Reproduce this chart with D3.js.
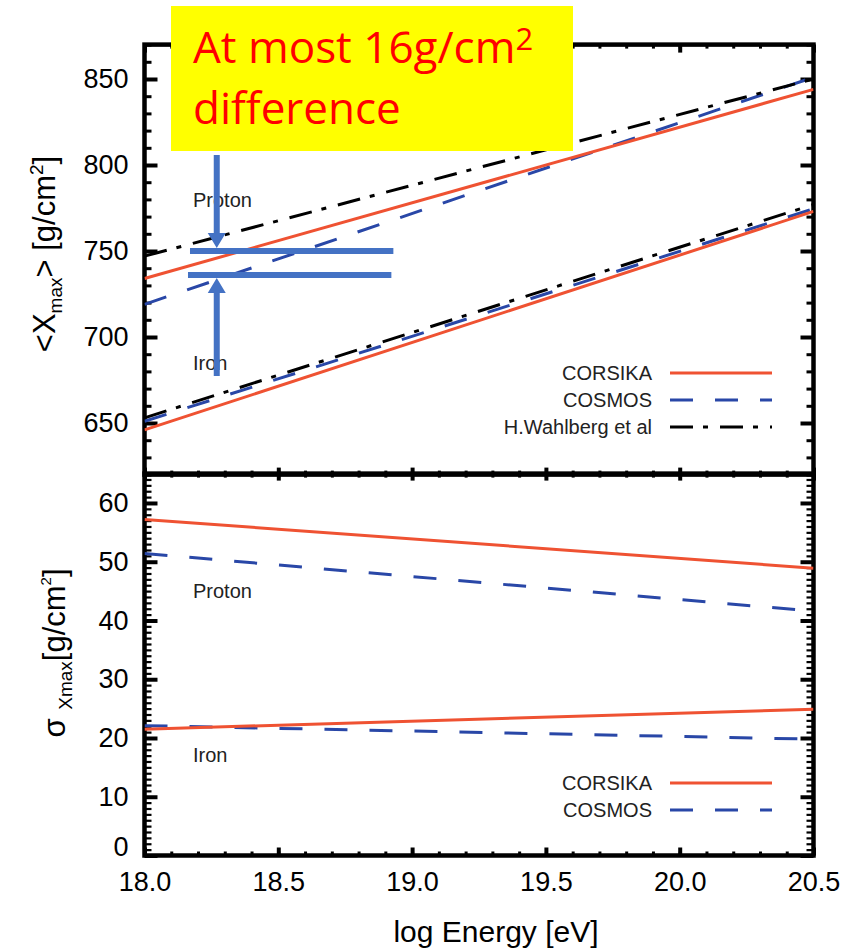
<!DOCTYPE html>
<html>
<head>
<meta charset="utf-8">
<script src="https://d3js.org/d3.v7.min.js"></script>
<style>
  body { margin: 0; background: #fff; }
  text { font-family: "Liberation Sans", Arial, sans-serif; }
</style>
</head>
<body>
<div id="chart"></div>
<script>
// chart data
var energyTicks = [18.0, 18.5, 19.0, 19.5, 20.0, 20.5];
var xmaxTicks = [650, 700, 750, 800, 850];
var sigmaTicks = [0, 10, 20, 30, 40, 50, 60];

var lineEnergy = [18.0, 20.5];
// <Xmax>
var xmaxProtonCorsika = [734, 844];
var xmaxProtonCosmos = [719, 851];
var xmaxProtonWahlberg = [747, 850];
var xmaxIronCorsika = [646, 773];
var xmaxIronCosmos = [651, 774.5];
var xmaxIronWahlberg = [653, 777];
// sigma Xmax
var sigmaProtonCorsika = [57.2, 48.9];
var sigmaProtonCosmos = [51.4, 41.6];
var sigmaIronCorsika = [21.5, 24.9];
var sigmaIronCosmos = [22.1, 19.8];

var legendTop = ["CORSIKA", "COSMOS", "H.Wahlberg et al"];
var legendBottom = ["CORSIKA", "COSMOS"];

var W = 863, H = 952;
var RED = "#ef5232", BLUE = "#2947a7", BLACK = "#000", ANNO = "#4472c4";

var styles = {
    corsika: {color: RED, dash: null},
    cosmos: {color: BLUE, dash: "23,22"},
    wahlberg: {color: BLACK, dash: "23,10,5,12"}
};

var svg = d3.select("#chart").append("svg")
    .attr("width", W)
    .attr("height", H);

// scales
var x = d3.scaleLinear().domain([18.0, 20.5]).range([144.5, 813.5]);
var yTop = d3.scaleLinear().domain([620, 870]).range([474.6, 44.6]);
var yBot = d3.scaleLinear().domain([0, 65]).range([855.5, 473.6]);

function range(a, b, step) {
    var out = [];
    for (var v = a; v <= b + 1e-9; v += step) out.push(+v.toFixed(3));
    return out;
}

// axis helper: ticks inward, no domain path
function addAxis(axisFn, scale, values, size, transform, fmt, sw, pad) {
    var ax = axisFn(scale).tickValues(values).tickSizeInner(size).tickSizeOuter(0)
        .tickPadding(pad || 0).tickFormat(fmt || "");
    var g = svg.append("g").attr("transform", transform).call(ax);
    g.select(".domain").remove();
    g.selectAll("line").attr("stroke", "#000").attr("stroke-width", sw);
    g.selectAll("text").attr("font-size", 27).attr("fill", "#000")
        .style("font-family", "'Liberation Sans', Arial, sans-serif");
    return g;
}

var xMinor = range(18.0, 20.5, 0.1);
var xMajor = energyTicks;
var x0 = x.range()[0], x1 = x.range()[1];

// clip
svg.append("clipPath").attr("id", "clipTop").append("rect")
    .attr("x", x0).attr("y", yTop(870)).attr("width", x1 - x0).attr("height", yTop(620) - yTop(870));
svg.append("clipPath").attr("id", "clipBot").append("rect")
    .attr("x", x0).attr("y", yBot(65)).attr("width", x1 - x0).attr("height", yBot(0) - yBot(65));

// ---------- top panel ticks
addAxis(d3.axisLeft, yTop, range(620, 870, 10), -7, "translate(" + x0 + ",0)", null, 3);
addAxis(d3.axisLeft, yTop, xmaxTicks, -13, "translate(" + x0 + ",0)", d3.format("d"), 4, 16);
addAxis(d3.axisRight, yTop, range(620, 870, 10), -7, "translate(" + x1 + ",0)", null, 3);
addAxis(d3.axisRight, yTop, xmaxTicks, -13, "translate(" + x1 + ",0)", null, 4);
addAxis(d3.axisTop, x, xMinor, -4, "translate(0," + yTop(870) + ")", null, 3);
addAxis(d3.axisTop, x, xMajor, -8, "translate(0," + yTop(870) + ")", null, 4);
addAxis(d3.axisTop, x, xMinor, 4, "translate(0," + yTop(620) + ")", null, 3);
addAxis(d3.axisTop, x, xMajor, 7, "translate(0," + yTop(620) + ")", null, 4);

// ---------- bottom panel ticks
addAxis(d3.axisLeft, yBot, range(0, 65, 1), -7, "translate(" + x0 + ",0)", null, 2.2);
var gSig = addAxis(d3.axisLeft, yBot, sigmaTicks, -13, "translate(" + x0 + ",0)", d3.format("d"), 4, 16);
gSig.selectAll(".tick").filter(function (d) { return d === 0; }).select("text").attr("y", -9);
addAxis(d3.axisRight, yBot, range(0, 65, 1), -7, "translate(" + x1 + ",0)", null, 2.2);
addAxis(d3.axisRight, yBot, sigmaTicks, -13, "translate(" + x1 + ",0)", null, 4);
addAxis(d3.axisBottom, x, xMinor, 4, "translate(0," + yBot(65) + ")", null, 3);
addAxis(d3.axisBottom, x, xMajor, 7, "translate(0," + yBot(65) + ")", null, 4);
addAxis(d3.axisBottom, x, xMinor, -4, "translate(0," + yBot(0) + ")", null, 3);
addAxis(d3.axisBottom, x, xMajor, -8, "translate(0," + yBot(0) + ")", d3.format(".1f"), 4, 16);

// ---------- frames
svg.append("rect").attr("x", x0).attr("y", yTop(870)).attr("width", x1 - x0).attr("height", yTop(620) - yTop(870))
    .attr("fill", "none").attr("stroke", "#000").attr("stroke-width", 4.5);
svg.append("rect").attr("x", x0).attr("y", yBot(65)).attr("width", x1 - x0).attr("height", yBot(0) - yBot(65))
    .attr("fill", "none").attr("stroke", "#000").attr("stroke-width", 4.5);

// ---------- data lines
function drawSeries(clip, yScale, values, st) {
    var pts = lineEnergy.map(function (e, i) { return [e, values[i]]; });
    var line = d3.line().x(function (d) { return x(d[0]); }).y(function (d) { return yScale(d[1]); });
    svg.append("path").attr("clip-path", "url(#" + clip + ")")
        .attr("d", line(pts))
        .attr("fill", "none")
        .attr("stroke", st.color)
        .attr("stroke-width", 3)
        .attr("stroke-dasharray", st.dash);
}

drawSeries("clipTop", yTop, xmaxProtonCosmos, styles.cosmos);
drawSeries("clipTop", yTop, xmaxProtonWahlberg, styles.wahlberg);
drawSeries("clipTop", yTop, xmaxProtonCorsika, styles.corsika);
drawSeries("clipTop", yTop, xmaxIronCosmos, styles.cosmos);
drawSeries("clipTop", yTop, xmaxIronWahlberg, styles.wahlberg);
drawSeries("clipTop", yTop, xmaxIronCorsika, styles.corsika);

drawSeries("clipBot", yBot, sigmaProtonCosmos, styles.cosmos);
drawSeries("clipBot", yBot, sigmaProtonCorsika, styles.corsika);
drawSeries("clipBot", yBot, sigmaIronCosmos, styles.cosmos);
drawSeries("clipBot", yBot, sigmaIronCorsika, styles.corsika);

// ---------- legends
function drawLegend(names, keys, yStart, step) {
    names.forEach(function (n, i) {
        var yy = yStart + i * step;
        svg.append("text").attr("x", 652).attr("y", yy).attr("dy", "0.35em")
            .attr("text-anchor", "end").attr("font-size", 20).attr("fill", "#222").text(n);
        svg.append("line").attr("x1", 670).attr("x2", 772).attr("y1", yy).attr("y2", yy)
            .attr("stroke", styles[keys[i]].color).attr("stroke-width", 3)
            .attr("stroke-dasharray", styles[keys[i]].dash);
    });
}
drawLegend(legendTop, ["corsika", "cosmos", "wahlberg"], 373, 27);
drawLegend(legendBottom, ["corsika", "cosmos"], 783, 27);

// ---------- species labels
function label(txt, px, py) {
    svg.append("text").attr("x", px).attr("y", py).attr("font-size", 20).attr("fill", "#222").text(txt);
}
label("Proton", 193, 207);
label("Iron", 193, 370);
label("Proton", 193, 598);
label("Iron", 193, 762);

// ---------- axis titles
var t1 = svg.append("text").attr("transform", "translate(55,254) rotate(-90)")
    .attr("text-anchor", "middle").attr("font-size", 31).attr("fill", "#000");
t1.append("tspan").text("<X");
t1.append("tspan").attr("font-size", 19).attr("dy", 7).text("max");
t1.append("tspan").attr("dy", -7).text("> [g/cm");
t1.append("tspan").attr("font-size", 19).attr("dy", -12).text("2");
t1.append("tspan").attr("dy", 12).text("]");

var t2 = svg.append("text").attr("transform", "translate(65,653) rotate(-90)")
    .attr("text-anchor", "middle").attr("font-size", 31).attr("fill", "#000");
t2.append("tspan").text("σ ");
t2.append("tspan").attr("font-size", 19).attr("dy", 7).text("Xmax");
t2.append("tspan").attr("dy", -7).text("[g/cm");
t2.append("tspan").attr("font-size", 15).attr("dy", -14).text("2");
t2.append("tspan").attr("dy", 14).text("]");

svg.append("text").attr("x", 496).attr("y", 942).attr("text-anchor", "middle")
    .attr("font-size", 30).attr("fill", "#000").text("log Energy [eV]");

// ---------- annotation: arrows and marker lines
var annoX0 = 18.17, annoX1 = 18.93, arrowE = 18.27;
var hi = 750, lo = 736;
svg.append("line").attr("x1", x(annoX0)).attr("x2", x(annoX1)).attr("y1", yTop(hi)).attr("y2", yTop(hi))
    .attr("stroke", ANNO).attr("stroke-width", 6);
svg.append("line").attr("x1", x(annoX0) - 2).attr("x2", x(annoX1) - 2).attr("y1", yTop(lo)).attr("y2", yTop(lo))
    .attr("stroke", ANNO).attr("stroke-width", 6);

function arrow(ax, yFrom, yTip) {
    var dir = yTip > yFrom ? 1 : -1,
        hb = yTip - dir * 15;
    var p = d3.path();
    p.moveTo(ax - 3, yFrom);
    p.lineTo(ax - 3, hb);
    p.lineTo(ax - 9, hb);
    p.lineTo(ax, yTip);
    p.lineTo(ax + 9, hb);
    p.lineTo(ax + 3, hb);
    p.lineTo(ax + 3, yFrom);
    p.closePath();
    svg.append("path").attr("d", p.toString()).attr("fill", ANNO);
}
arrow(x(arrowE), 155, yTop(hi) - 3);
arrow(x(arrowE), 376, yTop(lo) + 3);

// ---------- yellow callout
svg.append("rect").attr("x", 171).attr("y", 6).attr("width", 402).attr("height", 145).attr("fill", "#ffff00");
var c1 = svg.append("text").attr("x", 193).attr("y", 63).attr("font-size", 44).attr("fill", "#ff0000")
    .style("font-family", "'Open Sans', Lato, sans-serif");
c1.append("tspan").text("At most 16g/cm");
c1.append("tspan").attr("font-size", 31).attr("dy", -13).text("2");
svg.append("text").attr("x", 193).attr("y", 124).attr("font-size", 44).attr("fill", "#ff0000")
    .style("font-family", "'Open Sans', Lato, sans-serif").text("difference");
</script>
</body>
</html>
